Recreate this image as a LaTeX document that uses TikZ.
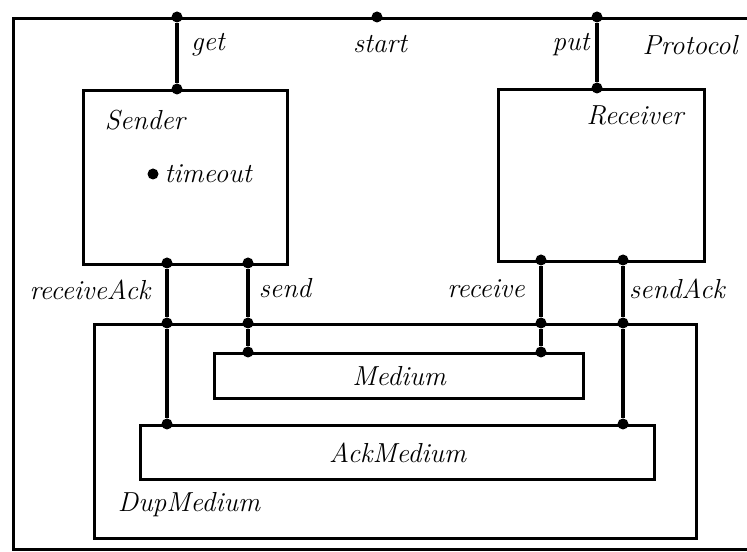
\documentclass[tikz,border=0pt]{standalone}
\usetikzlibrary{positioning}
\begin{document}
\begin{tikzpicture}[x=0.4pt,y=-0.4pt,
    box/.style={draw, line width=1.3pt, anchor=north west, inner sep=0pt},
    port/.style={circle, fill, inner sep=0pt, minimum size=4.4pt},
    lbl/.style={font=\fontsize{11}{13}\selectfont\itshape, inner sep=1pt},
    wire/.style={line width=1.3pt}]
        % keep the page the size of the scan
        \useasboundingbox (0,0) rectangle (747,552);

        % Components: outer protocol, sender/receiver and the media
        \node[box, minimum width=296pt, minimum height=212.4pt] (protocol) at (12,17) {};
        \node[box, minimum width=81.6pt, minimum height=69.6pt] (sender) at (82,89) {};
        \node[box, minimum width=82.4pt, minimum height=68.8pt] (receiver) at (497,88) {};
        \node[box, minimum width=240.8pt, minimum height=85.6pt] (dup) at (93,323) {};
        \node[box, minimum width=147.6pt, minimum height=18pt, lbl] (medium) at (213,352) {Medium};
        \node[box, minimum width=205.6pt, minimum height=21.6pt, lbl] (ack) at (139,424) {AckMedium};

        % Ports on the outer box
        \node[port] (get) at (177,17) {};
        \node[port] (start) at (377,17) {};
        \node[port] (put) at (597,17) {};

        % Ports on sender and receiver
        \node[port] (sget) at (177,89) {};
        \node[port] (timeout) at (153,174) {};
        \node[port] (srack) at (167,263) {};
        \node[port] (ssend) at (248,263) {};
        \node[port] (rput) at (597,88) {};
        \node[port] (rrec) at (541,260) {};
        \node[port] (rsack) at (623,260) {};

        % Ports on the duplex medium and its parts
        \node[port] (drack) at (167,323) {};
        \node[port] (dsend) at (248,323) {};
        \node[port] (drec) at (541,323) {};
        \node[port] (dsack) at (623,323) {};
        \node[port] (msend) at (248,352) {};
        \node[port] (mrec) at (541,352) {};
        \node[port] (arack) at (167,424) {};
        \node[port] (asack) at (623,424) {};

        % Links
        \draw[wire] (get) -- (sget);
        \draw[wire] (put) -- (rput);
        \draw[wire] (srack) -- (drack) -- (arack);
        \draw[wire] (ssend) -- (dsend) -- (msend);
        \draw[wire] (rrec) -- (drec) -- (mrec);
        \draw[wire] (rsack) -- (dsack) -- (asack);

        % Labels
        \node[lbl] (getl) at (208,45) {get};
        \node[lbl] (startl) at (380,44) {start};
        \node[lbl] (putl) at (571,45) {put};
        \node[lbl] (protl) at (690,45) {Protocol};
        \node[lbl] (sendl) at (145,120) {Sender};
        \node[lbl, right=1pt of timeout] (timeoutl) {timeout};
        \node[lbl] (recvl) at (635,115) {Receiver};
        \node[lbl] (rackl) at (90,290) {receiveAck};
        \node[lbl] (sndl) at (285,288) {send};
        \node[lbl] (recl) at (486,289) {receive};
        \node[lbl] (sackl) at (677,289) {sendAck};
        \node[lbl] (dupl) at (189,505) {DupMedium};
    \end{tikzpicture}
\end{document}
